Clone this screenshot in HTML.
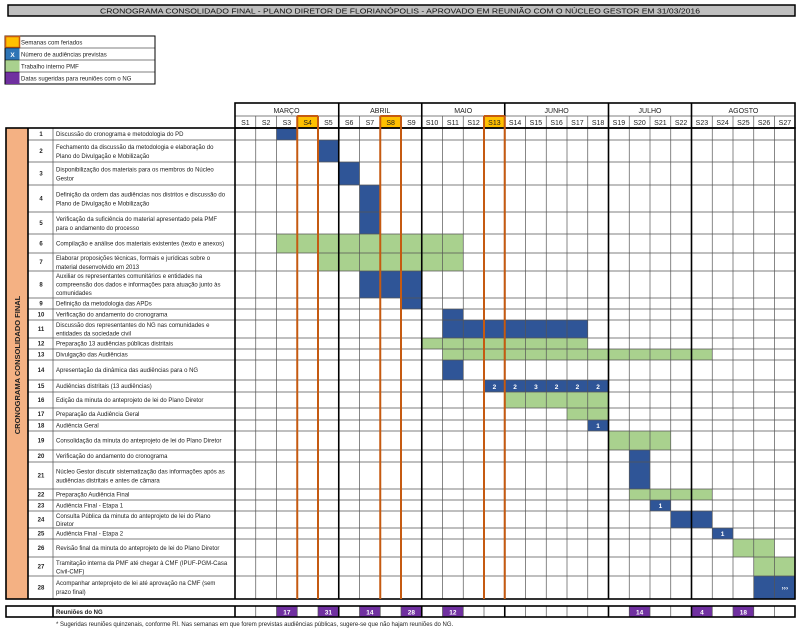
<!DOCTYPE html>
<html><head><meta charset="utf-8"><style>
html,body{margin:0;padding:0;background:#fff;}
svg{display:block;font-family:"Liberation Sans Narrow","Liberation Sans",sans-serif;}
.l{font-size:6px;fill:#222;}
.n{font-size:6px;fill:#222;font-weight:bold;}
.w{font-size:6.5px;fill:#fff;font-weight:bold;}
.h{font-size:7px;fill:#222;}
</style></head><body>
<svg width="800" height="633" viewBox="0 0 800 633" xmlns="http://www.w3.org/2000/svg">
<rect width="800" height="633" fill="#fff"/>
<!-- title -->
<rect x="8" y="5" width="787" height="11" fill="#bfbfbf" stroke="#000" stroke-width="1.5"/>
<text x="400" y="13.5" text-anchor="middle" font-size="7.5" textLength="600" lengthAdjust="spacingAndGlyphs" fill="#111">CRONOGRAMA CONSOLIDADO FINAL - PLANO DIRETOR DE FLORIANÓPOLIS - APROVADO EM REUNIÃO COM O NÚCLEO GESTOR EM 31/03/2016</text>
<!-- legend -->
<rect x="5" y="36" width="150" height="48" fill="#fff" stroke="#000" stroke-width="1"/>
<rect x="5.5" y="36.5" width="14" height="11" fill="#ffc000" stroke="#c55a11" stroke-width="1.5"/>
<rect x="5.5" y="48" width="14" height="12" fill="#2e75b6"/>
<text x="12.5" y="57" text-anchor="middle" class="w">X</text>
<rect x="5.5" y="60" width="14" height="12" fill="#a9d18e"/>
<rect x="5.5" y="72" width="14" height="12" fill="#7030a0"/>
<g stroke="#000" stroke-width="0.6"><line x1="5" y1="48" x2="155" y2="48"/><line x1="5" y1="60" x2="155" y2="60"/><line x1="5" y1="72" x2="155" y2="72"/></g>
<text x="21" y="44.5" class="l">Semanas com feriados</text>
<text x="21" y="56.5" class="l">Número de audiências previstas</text>
<text x="21" y="68.5" class="l">Trabalho interno PMF</text>
<text x="21" y="80.5" class="l">Datas sugeridas para reuniões com o NG</text>

<!-- header -->
<rect x="297.25" y="116" width="20.75" height="12" fill="#ffc000"/>
<rect x="380.25" y="116" width="20.75" height="12" fill="#ffc000"/>
<rect x="484" y="116" width="20.75" height="12" fill="#ffc000"/>
<g class="h" text-anchor="middle">
<text x="286.5" y="113">MARÇO</text><text x="380.25" y="113">ABRIL</text><text x="463.25" y="113">MAIO</text><text x="556.6" y="113">JUNHO</text><text x="650" y="113">JULHO</text><text x="743.4" y="113">AGOSTO</text>
</g>
<g class="h" text-anchor="middle" font-size="6.5">
<text x="245.4" y="125">S1</text><text x="266.1" y="125">S2</text><text x="286.9" y="125">S3</text><text x="307.6" y="125">S4</text><text x="328.4" y="125">S5</text><text x="349.1" y="125">S6</text><text x="369.9" y="125">S7</text><text x="390.6" y="125">S8</text><text x="411.4" y="125">S9</text><text x="432.1" y="125">S10</text><text x="452.9" y="125">S11</text><text x="473.6" y="125">S12</text><text x="494.4" y="125">S13</text><text x="515.1" y="125">S14</text><text x="535.9" y="125">S15</text><text x="556.6" y="125">S16</text><text x="577.4" y="125">S17</text><text x="598.1" y="125">S18</text><text x="618.9" y="125">S19</text><text x="639.6" y="125">S20</text><text x="660.4" y="125">S21</text><text x="681.1" y="125">S22</text><text x="701.9" y="125">S23</text><text x="722.6" y="125">S24</text><text x="743.4" y="125">S25</text><text x="764.1" y="125">S26</text><text x="784.9" y="125">S27</text>
</g>

<!-- left label column -->
<rect x="6" y="128" width="22" height="471" fill="#f4b183"/>
<text transform="translate(20,365) rotate(-90)" text-anchor="middle" font-size="7.5" font-weight="bold" fill="#222">CRONOGRAMA CONSOLIDADO FINAL</text>

<!-- bars -->
<g fill="#2f5597">
<rect x="276.5" y="128" width="20.75" height="12"/>
<rect x="318" y="140" width="20.75" height="22"/>
<rect x="338.75" y="162" width="20.75" height="23"/>
<rect x="359.5" y="185" width="20.75" height="49"/>
<rect x="359.5" y="271" width="62.25" height="27"/>
<rect x="401" y="298" width="20.75" height="11"/>
<rect x="442.5" y="309" width="20.75" height="11"/>
<rect x="442.5" y="320" width="145.25" height="18"/>
<rect x="442.5" y="360" width="20.75" height="20"/>
<rect x="484" y="380" width="124.5" height="12"/>
<rect x="587.75" y="420" width="20.75" height="11"/>
<rect x="629.25" y="450" width="20.75" height="39"/>
<rect x="650" y="500" width="20.75" height="11"/>
<rect x="670.75" y="511" width="41.5" height="17"/>
<rect x="712.25" y="528" width="20.75" height="11"/>
<rect x="753.75" y="576" width="41.5" height="23"/>
</g>
<g fill="#a9d18e">
<rect x="276.5" y="234" width="186.75" height="19"/>
<rect x="318" y="253" width="145.25" height="18"/>
<rect x="421.75" y="338" width="166" height="11"/>
<rect x="442.5" y="349" width="269.75" height="11"/>
<rect x="504.75" y="392" width="103.75" height="16"/>
<rect x="567" y="408" width="41.5" height="12"/>
<rect x="608.5" y="431" width="62.25" height="19"/>
<rect x="629.25" y="489" width="83" height="11"/>
<rect x="733" y="539" width="41.5" height="18"/>
<rect x="753.75" y="557" width="41.5" height="19"/>
</g>
<g class="w" text-anchor="middle">
<text x="494.4" y="389">2</text><text x="515.1" y="389">2</text><text x="535.9" y="389">3</text><text x="556.6" y="389">2</text><text x="577.4" y="389">2</text><text x="598.1" y="389">2</text>
<text x="598.1" y="428">1</text><text x="660.4" y="508">1</text><text x="722.6" y="536">1</text><text x="784.9" y="590">›››</text>
</g>

<!-- grid lines -->
<g stroke="#555" stroke-width="0.7">
<path d="M28 140H795M28 162H795M28 185H795M28 212H795M28 234H795M28 253H795M28 271H795M28 298H795M28 309H795M28 320H795M28 338H795M28 349H795M28 360H795M28 380H795M28 392H795M28 408H795M28 420H795M28 431H795M28 450H795M28 462H795M28 489H795M28 500H795M28 511H795M28 528H795M28 539H795M28 557H795M28 576H795"/>
<path d="M255.75 116V599M276.5 116V599M297.25 116V599M318 116V599M359.5 116V599M380.25 116V599M401 116V599M442.5 116V599M463.25 116V599M484 116V599M525.5 116V599M546.25 116V599M567 116V599M587.75 116V599M629.25 116V599M650 116V599M670.75 116V599M712.25 116V599M733 116V599M753.75 116V599M774.5 116V599"/>
<path d="M235 116H795M53 128V599"/>
</g>
<g stroke="#000" stroke-width="1.6" fill="none">
<rect x="235" y="103" width="560" height="25"/>
<rect x="6" y="128" width="789" height="471"/>
<path d="M28 128V599M235 128V599M338.75 103V599M421.75 103V599M504.75 103V599M608.5 103V599M691.5 103V599"/>
</g>
<g stroke="#c55a11" stroke-width="2">
<path d="M297.25 116V599M318 116V599M380.25 116V599M401 116V599M484 116V599M504.75 116V599"/>
<path d="M297.25 116H318M380.25 116H401M484 116H504.75" />
</g>

<!-- row labels -->
<g class="n" text-anchor="middle">
<text x="41" y="136">1</text><text x="41" y="153">2</text><text x="41" y="175.5">3</text><text x="41" y="200.5">4</text><text x="41" y="225">5</text><text x="41" y="245.5">6</text><text x="41" y="264">7</text><text x="41" y="286.5">8</text><text x="41" y="305.5">9</text><text x="41" y="316.5">10</text><text x="41" y="331">11</text><text x="41" y="345.5">12</text><text x="41" y="356.5">13</text><text x="41" y="372">14</text><text x="41" y="388">15</text><text x="41" y="402">16</text><text x="41" y="416">17</text><text x="41" y="427.5">18</text><text x="41" y="442.5">19</text><text x="41" y="458">20</text><text x="41" y="477.5">21</text><text x="41" y="496.5">22</text><text x="41" y="507.5">23</text><text x="41" y="521.5">24</text><text x="41" y="535.5">25</text><text x="41" y="550">26</text><text x="41" y="568.5">27</text><text x="41" y="589.5">28</text>
</g>
<g class="l">
<text x="56" y="136">Discussão do cronograma e metodologia do PD</text>
<text x="56" y="149">Fechamento da discussão da metodologia e elaboração do</text><text x="56" y="158">Plano do Divulgação  e Mobilização</text>
<text x="56" y="171.5">Disponibilização dos materiais para os membros do Núcleo</text><text x="56" y="180.5">Gestor</text>
<text x="56" y="196.5">Definição da ordem das audiências nos distritos e discussão do</text><text x="56" y="205.5">Plano de Divulgação e Mobilização</text>
<text x="56" y="221">Verificação da suficiência do material apresentado pela PMF</text><text x="56" y="230">para o andamento do processo</text>
<text x="56" y="245.5">Compilação e análise dos materiais existentes (texto e anexos)</text>
<text x="56" y="260">Elaborar proposições técnicas, formais e jurídicas sobre o</text><text x="56" y="269">material desenvolvido em 2013</text>
<text x="56" y="278">Auxiliar os representantes comunitários e entidades na</text><text x="56" y="286.5">compreensão dos dados e informações para atuação junto às</text><text x="56" y="295">comunidades</text>
<text x="56" y="305.5">Definição da metodologia das APDs</text>
<text x="56" y="316.5">Verificação do andamento do cronograma</text>
<text x="56" y="327">Discussão dos representantes do NG nas comunidades e</text><text x="56" y="335.5">entidades da sociedade civil</text>
<text x="56" y="345.5">Preparação 13 audiências públicas distritais</text>
<text x="56" y="356.5">Divulgação das Audiências</text>
<text x="56" y="372">Apresentação da dinâmica das audiências para o NG</text>
<text x="56" y="388">Audiências distritais (13 audiências)</text>
<text x="56" y="402">Edição da minuta do anteprojeto de lei do Plano Diretor</text>
<text x="56" y="416">Preparação da Audiência Geral</text>
<text x="56" y="427.5">Audiência Geral</text>
<text x="56" y="442.5">Consolidação da minuta do anteprojeto de lei do Plano Diretor</text>
<text x="56" y="458">Verificação do andamento do cronograma</text>
<text x="56" y="473.5">Núcleo Gestor discutir sistematização das informações após as</text><text x="56" y="482.5">audiências distritais e antes de câmara</text>
<text x="56" y="496.5">Preparação Audiência Final</text>
<text x="56" y="507.5">Audiência Final - Etapa 1</text>
<text x="56" y="518">Consulta Pública da minuta do anteprojeto de lei do Plano</text><text x="56" y="526">Diretor</text>
<text x="56" y="535.5">Audiência Final - Etapa 2</text>
<text x="56" y="550">Revisão final da minuta do anteprojeto de lei do Plano Diretor</text>
<text x="56" y="565">Tramitação interna da PMF até chegar à CMF (IPUF-PGM-Casa</text><text x="56" y="573.5">Civil-CMF)</text>
<text x="56" y="585">Acompanhar anteprojeto de lei até aprovação na CMF (sem</text><text x="56" y="594">prazo final)</text>
</g>

<!-- reunioes row -->
<g fill="#7030a0">
<rect x="276.5" y="606" width="20.75" height="11"/><rect x="318" y="606" width="20.75" height="11"/><rect x="359.5" y="606" width="20.75" height="11"/><rect x="401" y="606" width="20.75" height="11"/><rect x="442.5" y="606" width="20.75" height="11"/><rect x="629.25" y="606" width="20.75" height="11"/><rect x="691.5" y="606" width="20.75" height="11"/><rect x="733" y="606" width="20.75" height="11"/>
</g>
<g class="w" text-anchor="middle">
<text x="286.9" y="614.5">17</text><text x="328.4" y="614.5">31</text><text x="369.9" y="614.5">14</text><text x="411.4" y="614.5">28</text><text x="452.9" y="614.5">12</text><text x="639.6" y="614.5">14</text><text x="701.9" y="614.5">4</text><text x="743.4" y="614.5">18</text>
</g>
<g stroke="#555" stroke-width="0.7">
<path d="M255.75 606V617M276.5 606V617M297.25 606V617M318 606V617M359.5 606V617M380.25 606V617M401 606V617M442.5 606V617M463.25 606V617M484 606V617M525.5 606V617M546.25 606V617M567 606V617M587.75 606V617M629.25 606V617M650 606V617M670.75 606V617M712.25 606V617M733 606V617M753.75 606V617M774.5 606V617"/>
</g>
<g stroke="#000" stroke-width="1.6" fill="none">
<rect x="6" y="606" width="789" height="11"/>
<path d="M53 606V617M235 606V617M338.75 606V617M421.75 606V617M504.75 606V617M608.5 606V617M691.5 606V617"/>
</g>
<text x="56" y="614" class="l" font-weight="bold">Reuniões do NG</text>
<text x="56" y="626" class="l">* Sugeridas reuniões quinzenais, conforme RI. Nas semanas em que forem previstas audiências públicas, sugere-se que não hajam reuniões do NG.</text>
</svg>
</body></html>
